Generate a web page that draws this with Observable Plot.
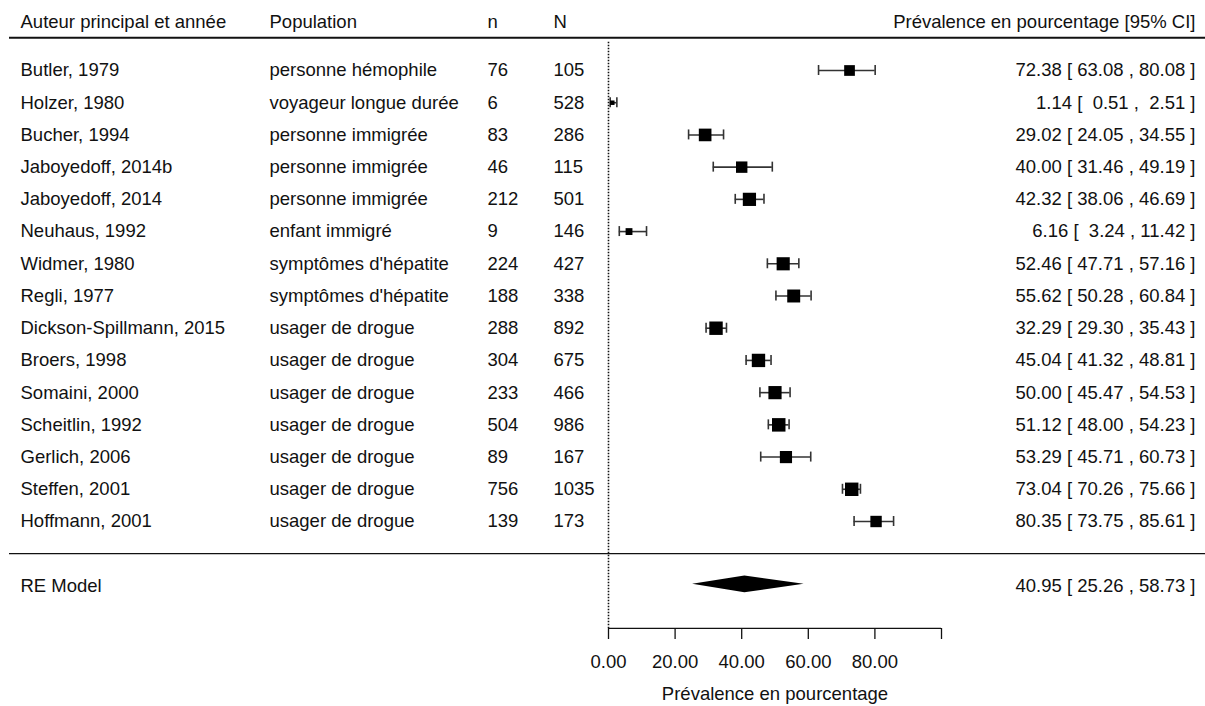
<!DOCTYPE html>
<html>
<head>
<meta charset="utf-8">
<script src="https://cdn.jsdelivr.net/npm/d3@7"></script>
<script src="https://cdn.jsdelivr.net/npm/@observablehq/plot@0.6"></script>
<style>
  body { margin: 0; background: #fff; }
  svg { white-space: pre; }
</style>
</head>
<body>
<div id="chart"></div>
<script>
// Studies of prevalence (percentage) with 95% confidence intervals
const authors = [
  "Butler, 1979", "Holzer, 1980", "Bucher, 1994", "Jaboyedoff, 2014b", "Jaboyedoff, 2014",
  "Neuhaus, 1992", "Widmer, 1980", "Regli, 1977", "Dickson-Spillmann, 2015", "Broers, 1998",
  "Somaini, 2000", "Scheitlin, 1992", "Gerlich, 2006", "Steffen, 2001", "Hoffmann, 2001"
];
const populations = [
  "personne hémophile", "voyageur longue durée", "personne immigrée", "personne immigrée", "personne immigrée",
  "enfant immigré", "symptômes d'hépatite", "symptômes d'hépatite", "usager de drogue", "usager de drogue",
  "usager de drogue", "usager de drogue", "usager de drogue", "usager de drogue", "usager de drogue"
];
const events = [76, 6, 83, 46, 212, 9, 224, 188, 288, 304, 233, 504, 89, 756, 139];
const totals = [105, 528, 286, 115, 501, 146, 427, 338, 892, 675, 466, 986, 167, 1035, 173];
const estimates = [72.38, 1.14, 29.02, 40.00, 42.32, 6.16, 52.46, 55.62, 32.29, 45.04, 50.00, 51.12, 53.29, 73.04, 80.35];
const lower = [63.08, 0.51, 24.05, 31.46, 38.06, 3.24, 47.71, 50.28, 29.30, 41.32, 45.47, 48.00, 45.71, 70.26, 73.75];
const upper = [80.08, 2.51, 34.55, 49.19, 46.69, 11.42, 57.16, 60.84, 35.43, 48.81, 54.53, 54.23, 60.73, 75.66, 85.61];

// Random-effects summary
const pooledLabel = "RE Model";
const pooledEstimate = 40.95;
const pooledLower = 25.26;
const pooledUpper = 58.73;

// Axis
const axisTicks = [0, 20, 40, 60, 80, 100];
const axisLabels = ["0.00", "20.00", "40.00", "60.00", "80.00", ""];
const headers = {author: "Auteur principal et année", population: "Population", n: "n", N: "N", ci: "Prévalence en pourcentage [95% CI]"};
const axisTitle = "Prévalence en pourcentage";

// Random-effects weights on the logit scale (DerSimonian-Laird) -> square sizes
const yi = events.map((n, i) => Math.log(n / (totals[i] - n)));
const vi = events.map((n, i) => 1 / n + 1 / (totals[i] - n));
const wFixed = vi.map(v => 1 / v);
const sumW = d3.sum(wFixed);
const yBar = d3.sum(yi, (y, i) => wFixed[i] * y) / sumW;
const Q = d3.sum(yi, (y, i) => wFixed[i] * (y - yBar) ** 2);
const cDL = sumW - d3.sum(wFixed, w => w * w) / sumW;
const tau2 = Math.max(0, (Q - (yi.length - 1)) / cDL);
const sw = vi.map(v => Math.sqrt(1 / (v + tau2)));
const [swMin, swMax] = d3.extent(sw);
const psize = sw.map(s => 0.5 + (s - swMin) / (swMax - swMin));

const fmt = v => v.toFixed(2);
const ciText = (e, lo, hi) => `${fmt(e)} [ ${fmt(lo).padStart(5)} , ${fmt(hi).padStart(5)} ]`;

const studies = authors.map((a, i) => ({
  row: i + 1,
  author: a,
  population: populations[i],
  n: events[i],
  N: totals[i],
  est: estimates[i],
  lo: lower[i],
  hi: upper[i],
  side: psize[i] * 9,
  label: ciText(estimates[i], lower[i], upper[i])
}));

// Layout rows (row units on the y scale)
const ROW_HEADER = -0.49;
const ROW_TOPRULE = -0.02;
const ROW_SEP = 16;
const ROW_RE = 17;
const ROW_AXIS = 18.32;
const ROW_TITLE = 20.37;
const CAP = 0.155;
const DIAMOND = 0.26;

const ink = "#111";
const font = "'Liberation Sans', Arial, sans-serif";
const FS = 18.5;

const diamond = [
  {y: ROW_RE - 0.05 - DIAMOND, x1: pooledEstimate, x2: pooledEstimate},
  {y: ROW_RE - 0.05, x1: pooledLower, x2: pooledUpper},
  {y: ROW_RE - 0.05 + DIAMOND, x1: pooledEstimate, x2: pooledEstimate}
];

const textCol = (data, field, dx, anchor, frameAnchor) =>
  Plot.text(data, {y: "row", text: field, frameAnchor, dx, textAnchor: anchor, fill: ink, fontSize: FS});

const headerRow = [{row: ROW_HEADER, ...headers}];
const pooledRow = [{row: ROW_RE, author: pooledLabel, label: ciText(pooledEstimate, pooledLower, pooledUpper)}];

const chart = Plot.plot({
  width: 1205,
  height: 706,
  marginTop: 0,
  marginLeft: 0,
  marginRight: 0,
  marginBottom: 78,
  style: {fontFamily: font, fontSize: `${FS}px`, color: ink, background: "#fff"},
  x: {domain: [0, 100], range: [608, 941], axis: null},
  y: {domain: [1, 15], range: [70, 521], axis: null},
  r: {type: "identity"},
  marks: [
    // horizontal rules
    Plot.ruleY([ROW_TOPRULE], {insetLeft: 9, stroke: ink, strokeWidth: 2}),
    Plot.ruleY([ROW_SEP], {insetLeft: 9, stroke: ink, strokeWidth: 1.3}),
    // reference line at zero
    Plot.ruleX([0], {y1: 0.12, y2: ROW_AXIS, stroke: ink, strokeDasharray: "1.5,1.5", strokeWidth: 1.6}),
    // confidence intervals
    Plot.ruleY(studies, {y: "row", x1: "lo", x2: "hi", stroke: "#333", strokeWidth: 1.6}),
    Plot.ruleX(studies, {x: "lo", y1: d => d.row - CAP, y2: d => d.row + CAP, stroke: "#333", strokeWidth: 1.6}),
    Plot.ruleX(studies, {x: "hi", y1: d => d.row - CAP, y2: d => d.row + CAP, stroke: "#333", strokeWidth: 1.6}),
    // point estimates, sized by weight
    Plot.dot(studies, {x: "est", y: "row", symbol: "square", r: d => d.side / Math.sqrt(Math.PI), fill: "#000", stroke: null}),
    // pooled estimate diamond
    Plot.areaX(diamond, {y: "y", x1: "x1", x2: "x2", fill: "#000", curve: "linear"}),
    // text columns
    textCol(headerRow, "author", 20, "start", "left"),
    textCol(headerRow, "population", 269, "start", "left"),
    textCol(headerRow, "n", 487, "start", "left"),
    textCol(headerRow, "N", 553, "start", "left"),
    textCol(headerRow, "ci", -10, "end", "right"),
    textCol(studies, "author", 20, "start", "left"),
    textCol(studies, "population", 269, "start", "left"),
    textCol(studies, d => String(d.n), 487, "start", "left"),
    textCol(studies, d => String(d.N), 553, "start", "left"),
    textCol(studies, "label", -10, "end", "right"),
    textCol(pooledRow, "author", 20, "start", "left"),
    textCol(pooledRow, "label", -10, "end", "right"),
    // x axis
    Plot.ruleY([ROW_AXIS], {x1: 0, x2: 100, stroke: ink, strokeWidth: 1.3}),
    Plot.axisX({
      ticks: axisTicks,
      tickSize: 11,
      tickPadding: 15,
      tickFormat: d => axisLabels[axisTicks.indexOf(d)],
      label: null,
      fontSize: FS,
      stroke: ink,
      strokeWidth: 1.3,
      fill: ink
    }),
    Plot.text([axisTitle], {x: 50, y: ROW_TITLE, text: d => d, fill: ink, fontSize: FS})
  ]
});

document.getElementById("chart").append(chart);
</script>
</body>
</html>
